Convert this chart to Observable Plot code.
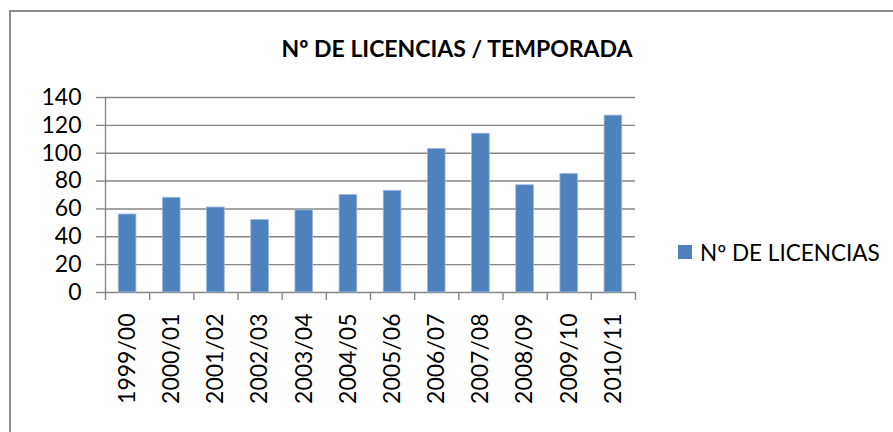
<!DOCTYPE html>
<html>
<head>
<meta charset="utf-8">
<script src="https://cdn.jsdelivr.net/npm/d3@7"></script>
<script src="https://cdn.jsdelivr.net/npm/@observablehq/plot@0.6"></script>
<style>
  html, body { margin: 0; padding: 0; background: #fff; }
  #wrap { position: relative; width: 893px; height: 432px; overflow: hidden; background: #fff; font-family: Lato, "Open Sans", sans-serif; }
  #border { position: absolute; left: 9px; top: 10px; width: 1000px; height: 1000px; border: 2px solid #8c8c8c; box-sizing: border-box; }
  #chart { position: absolute; left: 0; top: 0; }
  #title { position: absolute; left: 270px; top: 37px; width: 374px; text-align: center; font-weight: bold; font-size: 23px; line-height: 1; color: #000; white-space: nowrap; }
  #legend { position: absolute; left: 678px; top: 238px; height: 28px; display: flex; align-items: center; font-size: 22.5px; line-height: 1.2; color: #000; white-space: nowrap; }
  #legend .sw { width: 14px; height: 14px; background: #4F81BD; margin-right: 8px; }
</style>
</head>
<body>
<div id="wrap">
  <div id="border"></div>
  <div id="chart"></div>
  <div id="title"></div>
  <div id="legend"><div class="sw"></div><span id="legtext"></span></div>
</div>
<script>
const titleText = "Nº DE LICENCIAS / TEMPORADA";
const seriesName = "Nº DE LICENCIAS";
const seasons = ["1999/00","2000/01","2001/02","2002/03","2003/04","2004/05","2005/06","2006/07","2007/08","2008/09","2009/10","2010/11"];
const licencias = [56, 68, 61, 52, 59, 70, 73, 103, 114, 77, 85, 127];
const yTicks = [0, 20, 40, 60, 80, 100, 120, 140];

document.getElementById("title").textContent = titleText;
document.getElementById("legtext").textContent = seriesName;

const data = seasons.map((s, i) => ({season: s, i, value: licencias[i]}));
const gridColor = "#878787";

const chart = Plot.plot({
  width: 893,
  height: 432,
  marginLeft: 105,
  marginRight: 258,
  marginTop: 97,
  marginBottom: 140,
  style: {fontFamily: "Lato, 'Open Sans', sans-serif", fontSize: "23px", color: "#000", background: "transparent"},
  x: {type: "linear", domain: [0, seasons.length], axis: null, label: null},
  y: {domain: [0, 140], axis: null, label: null},
  marks: [
    Plot.ruleY(yTicks, {stroke: gridColor, strokeWidth: 1.4}),
    Plot.ruleX([0], {y1: 0, y2: 140, stroke: gridColor, strokeWidth: 1.4}),
    Plot.rectY(data, {x1: d => d.i + 0.3, x2: d => d.i + 0.7, y1: 0, y2: "value", fill: "#4F81BD", stroke: "#9db7d9", strokeWidth: 0.8}),
    Plot.axisY({ticks: yTicks, label: null, tickSize: 9, tickPadding: 15, stroke: gridColor, strokeWidth: 1.4, fontSize: 23, tickFormat: d => String(d), fill: "#000"}),
    Plot.axisX({ticks: d3.range(seasons.length + 1), label: null, tickSize: 8, tickFormat: () => "", stroke: gridColor, strokeWidth: 1.4}),
    Plot.axisX({ticks: d3.range(seasons.length).map(i => i + 0.5), label: null, tickSize: 0, tickPadding: 21, tickRotate: -90, tickFormat: v => seasons[Math.round(v - 0.5)], fontSize: 23, fill: "#000"})
  ]
});
document.getElementById("chart").appendChild(chart);
</script>
</body>
</html>
